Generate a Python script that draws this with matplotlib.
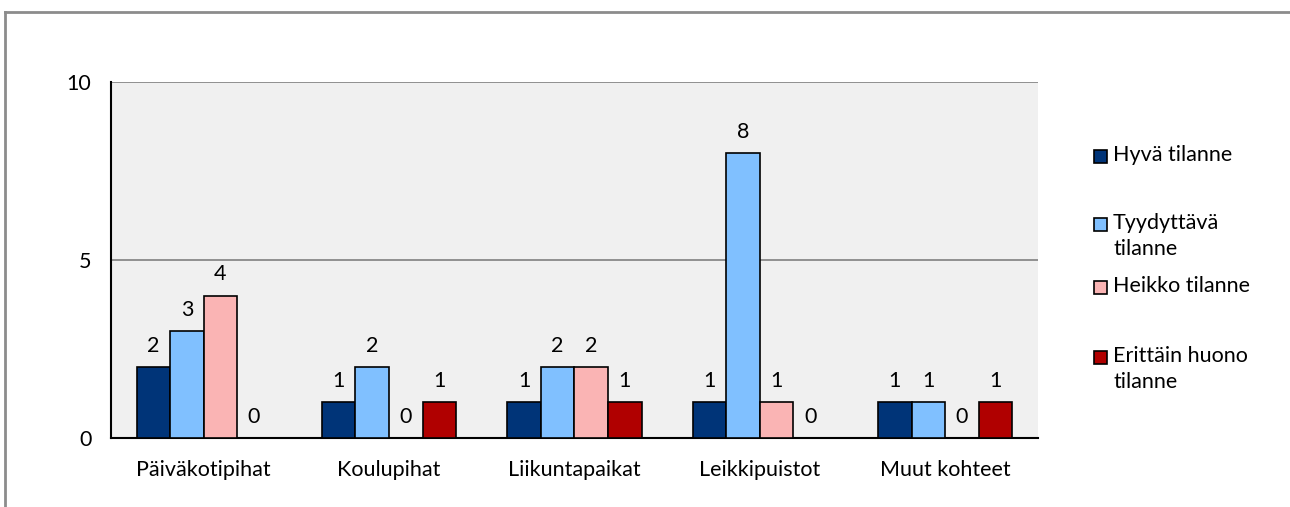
"""Recreate grouped bar chart of condition ratings by site type."""

import matplotlib
matplotlib.use("Agg")
import matplotlib.pyplot as plt
from matplotlib.lines import Line2D
from matplotlib.patches import Rectangle
import numpy as np

plt.rcParams["font.family"] = ["Lato", "DejaVu Sans"]

categories = ["Päiväkotipihat", "Koulupihat", "Liikuntapaikat", "Leikkipuistot", "Muut kohteet"]
series = ["Hyvä tilanne", "Tyydyttävä\ntilanne", "Heikko tilanne", "Erittäin huono\ntilanne"]
hyva = [2, 1, 1, 1, 1]
tyydyttava = [3, 2, 2, 8, 1]
heikko = [4, 0, 2, 1, 0]
erittain_huono = [0, 1, 1, 0, 1]
values = [hyva, tyydyttava, heikko, erittain_huono]
colors = ["#003478", "#80C0FF", "#FAB4B4", "#B00000"]
yticks = [0, 5, 10]

FS = 15.5

fig = plt.figure(figsize=(12.9, 5.07), dpi=100)
ax = fig.add_axes([0.0860, 0.1361, 0.7186, 0.7022])
ax.set_facecolor("#F0F0F0")

x = np.arange(len(categories))
bw = 0.181
for i, (vals, col) in enumerate(zip(values, colors)):
    pos = x + (i - 1.5) * bw
    ax.bar(pos, vals, width=bw, color=col, edgecolor="black", linewidth=1.2, zorder=3)
    for p, v in zip(pos, vals):
        ax.annotate(str(v), (p, v), xytext=(0, 8), textcoords="offset points",
                    ha="center", va="bottom", fontsize=FS)

ax.set_xlim(-0.5, len(categories) - 0.5)
ax.set_ylim(0, 10)
ax.set_yticks(yticks)
ax.set_xticks(x)
ax.set_xticklabels(categories, fontsize=FS)
ax.tick_params(axis="both", length=0, labelsize=FS)
ax.tick_params(axis="x", pad=16)
ax.tick_params(axis="y", pad=14)
ax.yaxis.grid(True, color="#808080", linewidth=1.2, zorder=1)
ax.set_axisbelow(True)
for s in ["top", "right"]:
    ax.spines[s].set_visible(False)
for s in ["left", "bottom"]:
    ax.spines[s].set_color("black")
    ax.spines[s].set_linewidth(1.5)

# manual legend, handle aligned with first text line
W, H = 1290, 507
legend_y = [156, 224, 287, 357]
for lab, col, yy in zip(series, colors, legend_y):
    fig.patches.append(Rectangle((1094 / W, 1 - (yy + 7) / H), 13 / W, 13 / H,
                                 transform=fig.transFigure, facecolor=col,
                                 edgecolor="black", linewidth=1.2))
    fig.text(1113 / W, 1 - (yy - 11) / H, lab, fontsize=FS, ha="left", va="top",
             linespacing=1.4)

# chart frame (top and left edges only)
fig.add_artist(Line2D([5 / W, 5 / W], [0, 1 - 12 / H], color="#8C8C8C", linewidth=2,
                      transform=fig.transFigure))
fig.add_artist(Line2D([5 / W, 1], [1 - 12 / H, 1 - 12 / H], color="#8C8C8C", linewidth=2,
                      transform=fig.transFigure))

fig.savefig("out.png", dpi=100)
